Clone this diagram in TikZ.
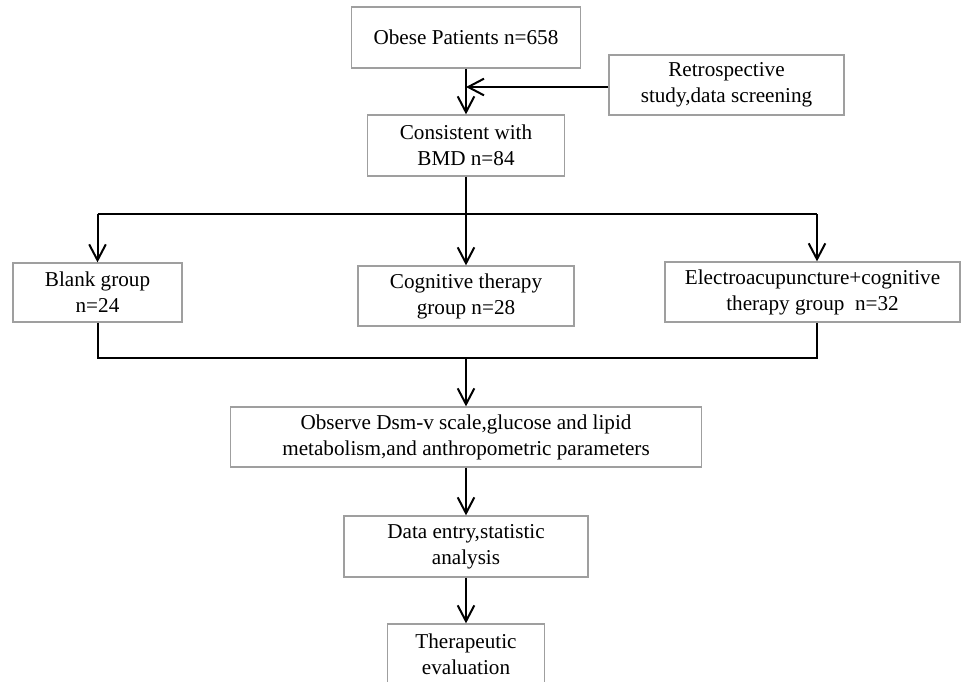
\documentclass[tikz,border=0pt]{standalone}
\usepackage{fontspec}
\setmainfont{Liberation Serif}
\usetikzlibrary{arrows.meta}
\begin{document}
\begin{tikzpicture}[
  x=0.6pt, y=-0.6pt,
  box/.style={
    draw=gray!75, line width=0.8pt, align=center, inner sep=0pt,
    font=\fontsize{12.7pt}{15.6pt}\selectfont
  },
  sized/.style 2 args={
    minimum width=#1*0.6pt, minimum height=#2*0.6pt
  },
  line/.style={line width=1.2pt},
  link/.style={
    line, -{Straight Barb[length=9.5pt, width=10pt, line width=1.2pt]}
  }
  ]
  \useasboundingbox (0,0) rectangle (961,681);
  \node[box, sized={229}{61}] (obese) at (466,37.5) {Obese Patients n=658};
  \node[box, sized={235}{60}] (retro) at (726.5,85) {Retrospective\\study,data screening};
  \node[box, sized={197}{61}] (bmd) at (466,145.5) {Consistent with\\BMD n=84};
  \node[box, sized={169}{59}] (blank) at (97.5,292.5) {Blank group\\n=24};
  \node[box, sized={216}{60}] (cog) at (466,296) {Cognitive therapy\\group n=28};
  \node[box, sized={295}{60}] (electro) at (812.5,292) {Electroacupuncture+cognitive\\therapy group\ \ n=32};
  \node[box, sized={471}{60}] (observe) at (466,437) {Observe Dsm-v scale,glucose and lipid\\metabolism,and anthropometric parameters};
  \node[box, sized={244}{61}] (data) at (466,546.5) {Data entry,statistic\\analysis};
  \node[box, sized={157}{61}] (thera) at (466,654.5) {Therapeutic\\evaluation};
  \coordinate (split) at (466,214);
  \coordinate (merge) at (466,358);
  \coordinate (etop) at (817,214);
  \coordinate (ebot) at (817,358);
  \draw[link] (obese) -- (bmd);
  \draw[link] ([yshift=-1.2pt]retro.west) -- ([yshift=-1.2pt]retro.west -| obese.south);
  \draw[line] (bmd) -- (split);
  \draw[line] (split -| blank) -- (etop);
  \draw[link] (split -| blank) -- (blank);
  \draw[link] (split) -- (cog);
  \draw[link] (etop) -- (etop |- electro.north);
  \draw[line] (blank) |- (ebot) -- (ebot |- electro.south);
  \draw[link] (merge) -- (observe);
  \draw[link] (observe) -- (data);
  \draw[link] (data) -- (thera);
\end{tikzpicture}
\end{document}
